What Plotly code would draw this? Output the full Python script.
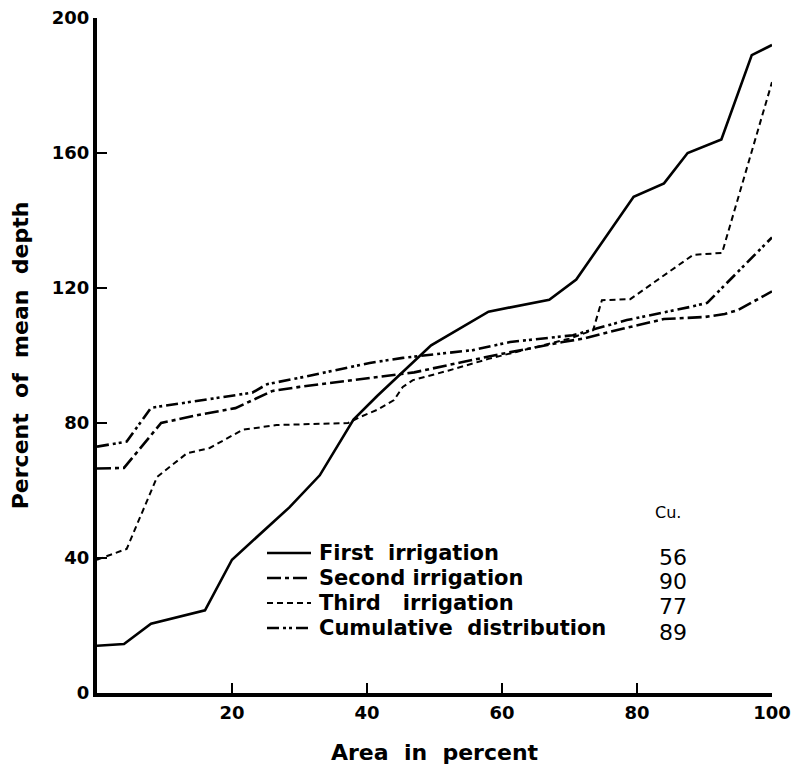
import plotly.graph_objects as go

# First irrigation (solid)
first_x = [0, 4, 8, 16, 20, 28.5, 33, 38, 41.5, 49.5, 58, 67, 71, 79.5, 84, 87.5, 92.5, 97, 100]
first_y = [14, 14.5, 20.5, 24.5, 39.5, 55, 64.5, 81, 88, 103, 113, 116.5, 122.5, 147, 151, 160, 164, 189, 192]

# Second irrigation (long dash - short dash)
second_x = [0, 4, 9.5, 15, 20.5, 23, 26, 30, 40, 47, 54, 60, 69, 72, 78, 84, 90, 93, 95, 100]
second_y = [66.5, 66.7, 80, 82.4, 84.4, 86.8, 89.5, 90.7, 93.3, 95, 98, 100.5, 104, 105, 108, 110.8, 111.4, 112.3, 113.5, 119]

# Third irrigation (short dashes)
third_x = [0, 4.4, 8.9, 13.3, 16.7, 21.6, 26.6, 37.2, 39, 41.5, 44, 45.3, 46.8, 52, 58, 64, 70, 73.5, 74.8, 79, 85, 88.3, 92.6, 100]
third_y = [39.5, 42.7, 64, 71, 72.6, 78, 79.4, 80, 81.8, 83.9, 86.8, 90.7, 92.7, 95.5, 99, 102, 105, 107.5, 116.4, 116.7, 125.3, 129.8, 130.4, 181]

# Cumulative distribution (dash-dot-dot)
cum_x = [0, 4.4, 8, 23, 25.2, 30.5, 40.4, 45.3, 55.7, 61.2, 70.5, 78.5, 87.9, 90.4, 100]
cum_y = [73, 74.5, 84.5, 89, 91.5, 93.6, 97.8, 99.3, 101.6, 104, 106, 110.5, 114.4, 115.6, 135]

series_names = ["First  irrigation", "Second irrigation", "Third   irrigation", "Cumulative  distribution"]
cu_values = ["56", "90", "77", "89"]

x_ticks = [20, 40, 60, 80, 100]
y_ticks = [0, 40, 80, 120, 160, 200]

FONT = "DejaVu Sans"
dashes = ["solid", "14px,4px,4px,4px", "6px,4px", "12px,4px,3px,3px,3px,4px"]
widths = [2.6, 2.6, 2.0, 2.6]

# the page body adds an 8px offset; plot area (window pixels): x 97..772, y 693..18
OFF = 8
W, H = 802 - OFF, 769 - OFF
L, R, T, B = 97, 772, 18, 693
def px(xp):
    return (xp - L) / (R - L)
def py(yp):
    return (B - yp) / (B - T)

fig = go.Figure()
for xs, ys, nm, d, w in zip([first_x, second_x, third_x, cum_x],
                            [first_y, second_y, third_y, cum_y],
                            series_names, dashes, widths):
    fig.add_trace(go.Scatter(x=xs, y=ys, mode="lines", name=nm, showlegend=False,
                             line=dict(color="black", width=w, dash=d)))

# legend drawn as in the original figure
legend_rows = [553, 578, 603, 628]
cu_rows = [557, 581, 606, 632]
for i, nm in enumerate(series_names):
    yy = py(legend_rows[i])
    fig.add_shape(type="line", xref="paper", yref="paper", x0=px(267), x1=px(311), y0=yy, y1=yy,
                  line=dict(color="black", width=widths[i], dash=dashes[i]))
    fig.add_annotation(x=px(317), y=yy, xref="paper", yref="paper", text=nm,
                       xanchor="left", yanchor="middle", showarrow=False,
                       font=dict(family=FONT, size=21, color="black", weight="bold"))
    fig.add_annotation(x=px(673), y=py(cu_rows[i]), xref="paper", yref="paper", text=cu_values[i],
                       xanchor="center", yanchor="middle", showarrow=False,
                       font=dict(family=FONT, size=22, color="black"))

fig.add_annotation(x=px(668), y=py(512), xref="paper", yref="paper", text="Cu.",
                   xanchor="center", yanchor="middle", showarrow=False,
                   font=dict(family=FONT, size=16, color="black"))

fig.update_layout(
    width=W, height=H,
    margin=dict(l=L - OFF, r=802 - R, t=T - OFF, b=769 - B, autoexpand=False),
    paper_bgcolor="white", plot_bgcolor="white",
    font=dict(family=FONT, size=18, color="black"),
    showlegend=False,
    xaxis=dict(range=[0, 100], tickvals=x_ticks, ticks="inside", ticklen=10, tickwidth=2,
               tickcolor="black", showline=True, linecolor="black", linewidth=4,
               showgrid=False, zeroline=False, automargin=False, ticklabeloverflow="allow",
               tickfont=dict(family=FONT, size=18, color="black", weight="bold"),
               title=dict(text="Area  in  percent", font=dict(family=FONT, size=22, weight="bold"), standoff=24)),
    yaxis=dict(range=[0, 200], tickvals=y_ticks, ticks="inside", ticklen=10, tickwidth=2,
               tickcolor="black", showline=True, linecolor="black", linewidth=4,
               showgrid=False, zeroline=False, automargin=False, ticklabeloverflow="allow",
               tickfont=dict(family=FONT, size=18, color="black", weight="bold"),
               title=dict(text="Percent  of  mean  depth", font=dict(family=FONT, size=22, weight="bold"), standoff=20)),
)

fig.write_html("out.html")
